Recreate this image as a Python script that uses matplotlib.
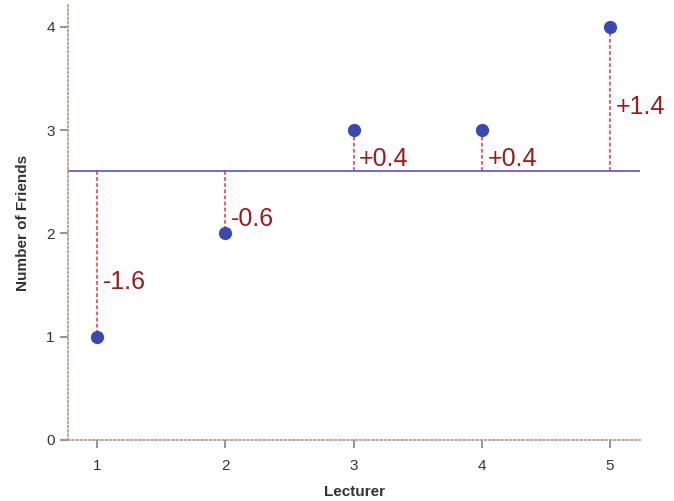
import numpy as np
import matplotlib.pyplot as plt

plt.rcParams['font.family'] = ['Liberation Sans', 'DejaVu Sans']

lecturer = [1, 2, 3, 4, 5]
friends = [1, 2, 3, 3, 4]
mean_friends = np.mean(friends)
residuals = [f - mean_friends for f in friends]
labels = ['-1.6', '-0.6', '+0.4', '+0.4', '+1.4']

fig = plt.figure(figsize=(6.74, 5.01), dpi=100)
ax = fig.add_axes([0.1009, 0.1218, 0.8487, 0.868])

# mean line
ax.axhline(mean_friends, color='#6a5fc8', lw=1.3, zorder=1)

# residual lines and labels
for x, y, r, lab in zip(lecturer, friends, residuals, labels):
    ax.plot([x, x], [mean_friends, y], color='#e03a3a', lw=1.1,
            ls=(0, (2.5, 1.5)), zorder=2)
    mid = (mean_friends + y) / 2
    off = -20 if r < -1 else (-12 if r < 0 else -6)
    ax.annotate(lab, (x, mid), xytext=(4, off), textcoords='offset points',
                ha='left', va='center', fontsize=18, color='#9c1c1c')

ax.plot(lecturer, friends, 'o', color='#3a48b4', ms=8.5, zorder=3)

ax.set_xlim(0.774, 5.234)
ax.set_ylim(0, 4.21)
ax.set_xticks(lecturer)
ax.set_yticks([0, 1, 2, 3, 4])

for side in ['top', 'right']:
    ax.spines[side].set_visible(False)
for side in ['left', 'bottom']:
    ax.spines[side].set_linestyle((0, (1, 1.5)))
    ax.spines[side].set_color('#a89a94')
    ax.spines[side].set_linewidth(1.2)

ax.tick_params(axis='both', colors='#8a8080', labelcolor='#333333',
               labelsize=11, direction='out', length=6, width=1.2)
ax.tick_params(axis='x', pad=8)

ax.set_xlabel('Lecturer', fontsize=11, fontweight='bold', color='#333333', labelpad=8)
ax.set_ylabel('Number of Friends', fontsize=11, fontweight='bold', color='#333333', labelpad=12)

fig.savefig('out.png', dpi=100)
